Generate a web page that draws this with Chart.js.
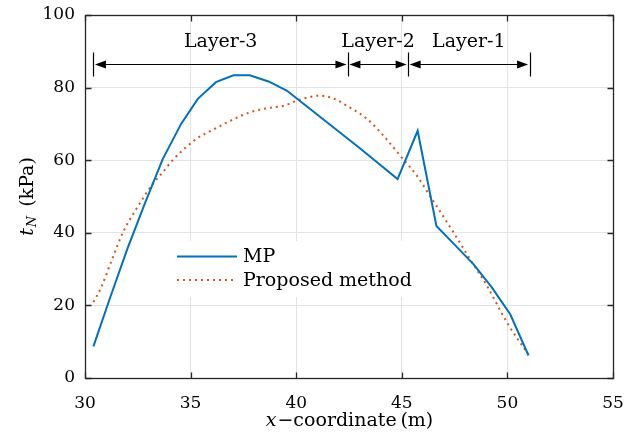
<!DOCTYPE html>
<html>
<head>
<meta charset="utf-8">
<script src="https://cdn.jsdelivr.net/npm/chart.js@4/dist/chart.umd.min.js"></script>
<style>
  html, body { margin: 0; padding: 0; background: #fff; }
  #wrap { width: 636px; height: 441px; }
</style>
</head>
<body>
<div id="wrap"><canvas id="tnChart" width="636" height="441"></canvas></div>
<script>
// MP result (solid blue)
const mpX = [30.4, 31.2, 32.0, 32.85, 33.68, 34.55, 35.34, 36.2, 37.03, 37.8, 38.69, 39.55, 40.42, 41.29, 42.16, 43.03, 43.9, 44.8, 45.75, 46.64, 47.52, 48.4, 49.27, 50.14, 51.0];
const mpY = [8.7, 22.3, 35.5, 48.3, 60.3, 70.0, 76.9, 81.5, 83.4, 83.4, 81.7, 79.2, 75.2, 71.2, 67.2, 63.2, 59.1, 54.8, 68.1, 41.9, 36.6, 31.3, 24.9, 17.5, 6.2];

// Proposed method (dotted orange)
const pmX = [30.4, 30.76, 31.31, 31.79, 32.42, 33.2, 33.7, 34.15, 35.26, 36.13, 37.0, 37.82, 38.6, 39.4, 40.03, 40.5, 41.14, 41.8, 42.4, 43.35, 44.14, 44.93, 45.72, 46.35, 47.45, 48.2, 49.04, 49.99, 51.0];
const pmY = [20.9, 24.9, 33.1, 40.0, 46.5, 53.4, 56.8, 60.0, 65.8, 68.6, 71.2, 73.2, 74.3, 75.0, 76.4, 77.2, 77.8, 76.9, 75.0, 71.4, 66.7, 61.2, 55.7, 50.0, 40.1, 33.0, 25.3, 15.2, 6.4];

// layer boundaries (m) and names
const layerBounds = [30.4, 42.45, 45.3, 51.05];
const layerNames = ['Layer-3', 'Layer-2', 'Layer-1'];
const layerArrowY = 86.5;

const xTicks = [30, 35, 40, 45, 50, 55];
const yTicks = [0, 20, 40, 60, 80, 100];

const FONT = '"DejaVu Serif", "Liberation Serif", serif';
const axisColor = '#262626';

const toPts = (xs, ys) => xs.map((x, i) => ({x: x, y: ys[i]}));

const drawArrowHead = (ctx, tipX, y, dir) => {
    // dir = -1 points left, +1 points right
    ctx.beginPath();
    ctx.moveTo(tipX, y);
    ctx.lineTo(tipX - dir * 11, y - 4);
    ctx.lineTo(tipX - dir * 11, y + 4);
    ctx.closePath();
    ctx.fill();
};

const legendBox = {
    id: 'legendBox',
    beforeDatasetsDraw(chart) {
        const ctx = chart.ctx;
        ctx.save();
        ctx.fillStyle = '#fff';
        ctx.fillRect(172, 241, 249, 56);
        ctx.restore();
    },
    afterDatasetsDraw(chart) {
        const ctx = chart.ctx;
        const rows = [256.5, 280];
        ctx.save();
        chart.data.datasets.forEach((ds, i) => {
            const y = rows[i];
            ctx.strokeStyle = ds.borderColor;
            ctx.lineWidth = 2;
            ctx.setLineDash(ds.borderDash || []);
            ctx.beginPath();
            ctx.moveTo(177, y);
            ctx.lineTo(237, y);
            ctx.stroke();
            ctx.setLineDash([]);
            ctx.fillStyle = '#000';
            ctx.font = '19px ' + FONT;
            ctx.textBaseline = 'middle';
            ctx.textAlign = 'left';
            ctx.fillText(ds.label, 243, y + 1);
        });
        ctx.restore();
    }
};

const frameAndNotes = {
    id: 'frameAndNotes',
    afterDatasetsDraw(chart) {
        const ctx = chart.ctx;
        const a = chart.chartArea;
        const xs = chart.scales.x, ys = chart.scales.y;
        const L = Math.round(a.left) + 0.5, R = Math.round(a.right) + 0.5;
        const T = Math.round(a.top) + 0.5, B = Math.round(a.bottom) + 0.5;
        ctx.save();
        ctx.strokeStyle = axisColor;
        ctx.lineWidth = 1.3;
        ctx.strokeRect(L, T, R - L, B - T);
        // inward ticks on all four sides
        ctx.beginPath();
        xTicks.forEach(v => {
            const px = Math.round(xs.getPixelForValue(v)) + 0.5;
            ctx.moveTo(px, B); ctx.lineTo(px, B - 6);
            ctx.moveTo(px, T); ctx.lineTo(px, T + 6);
        });
        yTicks.forEach(v => {
            const py = Math.round(ys.getPixelForValue(v)) + 0.5;
            ctx.moveTo(L, py); ctx.lineTo(L + 6, py);
            ctx.moveTo(R, py); ctx.lineTo(R - 6, py);
        });
        ctx.stroke();

        // layer arrows
        const ay = Math.round(ys.getPixelForValue(layerArrowY)) + 0.5;
        ctx.strokeStyle = '#000';
        ctx.fillStyle = '#000';
        ctx.lineWidth = 1.2;
        layerBounds.forEach(b => {
            const px = Math.round(xs.getPixelForValue(b)) + 0.5;
            ctx.beginPath();
            ctx.moveTo(px, ay - 12); ctx.lineTo(px, ay + 12);
            ctx.stroke();
        });
        for (let i = 0; i < layerNames.length; i++) {
            const x0 = xs.getPixelForValue(layerBounds[i]) + 1.5;
            const x1 = xs.getPixelForValue(layerBounds[i + 1]) - 1.5;
            ctx.beginPath();
            ctx.moveTo(x0 + 8, ay); ctx.lineTo(x1 - 8, ay);
            ctx.stroke();
            drawArrowHead(ctx, x0, ay, -1);
            drawArrowHead(ctx, x1, ay, 1);
            ctx.font = '19px ' + FONT;
            ctx.textAlign = 'center';
            ctx.textBaseline = 'alphabetic';
            ctx.fillText(layerNames[i], (x0 + x1) / 2, ay - 18);
        }

        // x axis title
        ctx.fillStyle = '#000';
        ctx.textBaseline = 'middle';
        ctx.textAlign = 'left';
        const cx = (a.left + a.right) / 2;
        ctx.font = 'italic 19px ' + FONT;
        const w1 = ctx.measureText('x').width;
        ctx.font = '19px ' + FONT;
        const rest = '\u2212coordinate\u2009(m)';
        const w2 = ctx.measureText(rest).width;
        let sx = cx - (w1 + w2) / 2;
        ctx.font = 'italic 19px ' + FONT;
        ctx.fillText('x', sx, 421);
        ctx.font = '19px ' + FONT;
        ctx.fillText(rest, sx + w1 + 1, 421);

        // y axis title
        ctx.translate(28, (a.top + a.bottom) / 2);
        ctx.rotate(-Math.PI / 2);
        ctx.font = 'italic 19px ' + FONT;
        const tw = ctx.measureText('t').width;
        ctx.font = 'italic 13px ' + FONT;
        const nw = ctx.measureText('N').width;
        ctx.font = '19px ' + FONT;
        const kw = ctx.measureText('(kPa)').width;
        const total = tw + nw + 10 + kw;
        let ty = -total / 2;
        ctx.font = 'italic 19px ' + FONT;
        ctx.fillText('t', ty, 0);
        ctx.font = 'italic 13px ' + FONT;
        ctx.fillText('N', ty + tw + 1, 5);
        ctx.font = '19px ' + FONT;
        ctx.fillText('(kPa)', ty + tw + nw + 10, 0);
        ctx.restore();
    }
};

const tnChart = document.getElementById('tnChart');

const chart = new Chart(tnChart, {
    type: 'line',
    data: {
        datasets: [{
            label: 'MP',
            data: toPts(mpX, mpY),
            borderColor: '#0072BD',
            borderWidth: 2,
            pointRadius: 0,
            tension: 0,
            fill: false
        },
        {
            label: 'Proposed method',
            data: toPts(pmX, pmY),
            borderColor: '#D95319',
            borderWidth: 2,
            borderDash: [2, 4],
            pointRadius: 0,
            cubicInterpolationMode: 'monotone',
            fill: false
        }]
    },
    options: {
        responsive: false,
        animation: false,
        layout: { padding: { top: 15, right: 23, left: 0, bottom: 0 } },
        plugins: {
            legend: { display: false },
            tooltip: { enabled: false }
        },
        scales: {
            x: {
                type: 'linear',
                min: 30,
                max: 55,
                afterBuildTicks: s => { s.ticks = xTicks.map(v => ({value: v})); },
                ticks: { padding: 15, color: '#000', font: { family: FONT, size: 17 }, maxRotation: 0 },
                grid: { color: '#e3e3e3', drawTicks: false },
                border: { display: false },
                afterFit: s => {
                    s.height = 63;
                    s.paddingLeft = 0;
                    s.paddingRight = 0;
                }
            },
            y: {
                min: 0,
                max: 100,
                afterBuildTicks: s => { s.ticks = yTicks.map(v => ({value: v})); },
                ticks: { padding: 10, color: '#000', font: { family: FONT, size: 17 } },
                grid: { color: '#e3e3e3', drawTicks: false },
                border: { display: false },
                afterFit: s => {
                    s.width = 85;
                    s.paddingTop = 0;
                    s.paddingBottom = 0;
                }
            }
        }
    },
    plugins: [legendBox, frameAndNotes]
});
</script>
</body>
</html>
